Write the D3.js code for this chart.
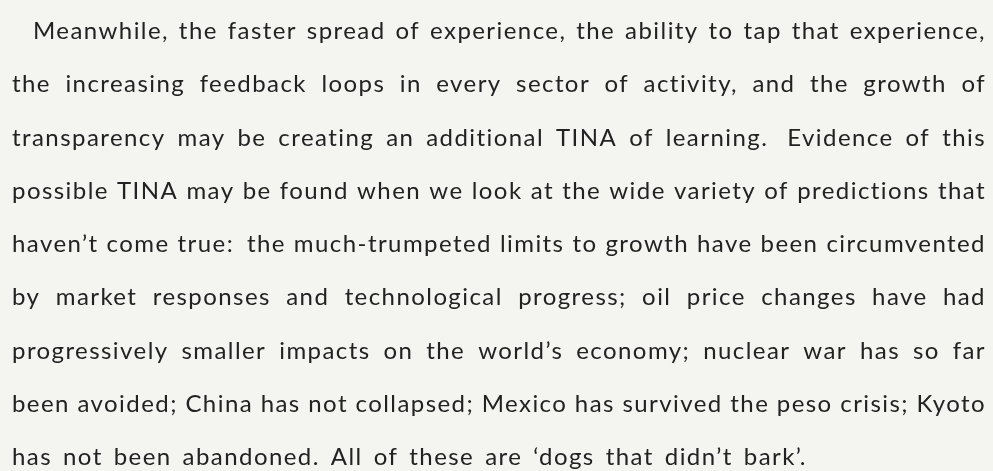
<!DOCTYPE html>
<html lang="en">
<head>
<meta charset="UTF-8">
<title>Dogs that didn't bark</title>
<script src="https://cdn.jsdelivr.net/npm/d3@7/dist/d3.min.js"></script>
<style>
    html, body { margin: 0; padding: 0; background: #f4f4f1; }
    svg { display: block; }
</style>
</head>
<body>
<svg id="main" width="993" height="471"></svg>
<script>
    // the page, one entry per printed line
    const lines = [
        "Meanwhile, the faster spread of experience, the ability to tap that experience,",
        "the increasing feedback loops in every sector of activity, and the growth of",
        "transparency may be creating an additional TINA of learning.  Evidence of this",
        "possible TINA may be found when we look at the wide variety of predictions that",
        "haven\u2019t come true:  the much-trumpeted limits to growth have been circumvented",
        "by market responses and technological progress; oil price changes have had",
        "progressively smaller impacts on the world\u2019s economy; nuclear war has so far",
        "been avoided; China has not collapsed; Mexico has survived the peso crisis; Kyoto",
        "has not been abandoned. All of these are \u2018dogs that didn\u2019t bark\u2019."
    ];
    const indented = [0];          // first line of the paragraph
    const lastLine = lines.length - 1;

    const width = 993, height = 471;
    const left = 12, right = 986, indent = 21;
    const fontSize = 24;
    const font = 'Lato';
    const lastGap = 11;            // plain spacing on the short last line

    const svg = d3.select('svg#main');

    svg.append('rect')
        .attr('width', width).attr('height', height)
        .attr('fill', '#f4f4f1');

    const defs = svg.append('defs');
    defs.append('filter').attr('id', 'scan')
        .append('feGaussianBlur').attr('stdDeviation', 0.35);

    const y = d3.scalePoint()
        .domain(d3.range(lines.length))
        .range([39, 465]);

    // tracking: the tightest full line should just fit with plain spaces
    const probe = svg.append('text')
        .style('font-family', font)
        .style('font-size', fontSize + 'px');
    const tracking = d3.min(lines.slice(0, lastLine), (line, i) => {
        const plain = line.split(/\s+/).join(' ');
        probe.text(plain);
        const w = probe.node().getComputedTextLength();
        const start = left + (indented.includes(i) ? indent : 0);
        return (right - start - w) / plain.length;
    });
    probe.remove();

    const page = svg.append('g')
        .attr('filter', 'url(#scan)')
        .style('font-family', font)
        .style('font-size', fontSize + 'px')
        .style('letter-spacing', tracking + 'px')
        .attr('fill', '#232323');

    lines.forEach((line, i) => {
        const words = line.split(/\s+/);
        // a double space after a sentence counts as a wider gap
        const weights = (line.match(/\s+/g) || []).map(s => s.length === 1 ? 1 : 1.6);
        const row = page.append('g');
        const nodes = words.map(w => row.append('text').attr('y', y(i)).text(w));
        const widths = nodes.map(n => n.node().getComputedTextLength());
        const start = left + (indented.includes(i) ? indent : 0);
        const unit = i === lastLine
            ? lastGap
            : (right - start - d3.sum(widths)) / d3.sum(weights);
        const x = d3.scaleLinear().domain([0, 1]).range([start, start + 1]);
        let pos = 0;
        nodes.forEach((n, k) => {
            n.attr('x', x(pos));
            pos += widths[k] + (k < weights.length ? weights[k] * unit : 0);
        });
    });
</script>
</body>
</html>
